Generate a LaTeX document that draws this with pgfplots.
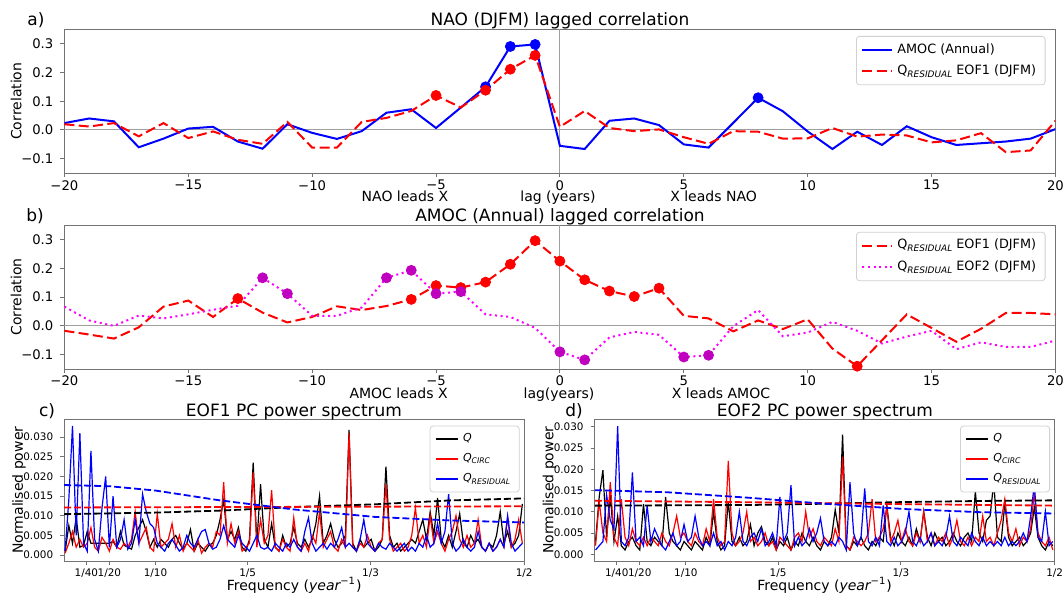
\documentclass[border=0pt]{standalone}
\usepackage{fontspec}
\setmainfont{DejaVu Sans}
\usepackage{graphicx}
\usepackage{pgfplots}
\usepackage{pgfplotstable}
\pgfplotsset{compat=1.18}

\definecolor{mplblue}{rgb}{0,0,1}
\definecolor{mplred}{rgb}{1,0,0}
\definecolor{mplmag}{rgb}{0.75,0,0.75}
\definecolor{mplmagline}{rgb}{1,0,1}
\definecolor{spine}{rgb}{0.45,0.45,0.45}

\newcommand{\fs}[1]{\fontsize{#1}{#1}\selectfont}
\newcommand{\sub}[1]{\raisebox{-0.35ex}{\scalebox{0.7}{\itshape #1}}}

% power spectra, values in units of 1e-3
% f  Q  C(circ)  R(residual)
\pgfplotstableread{
f Q C R
0.002 1 0.5 1
0.006 7.5 3 14
0.010 3 6 32.8
0.014 9.5 2 5
0.018 2 4 31
0.022 2.5 2 3
0.026 6 3 1
0.030 3 7 26.5
0.034 3 2 4
0.038 3 1 1
0.042 3 4.5 12
0.046 3 3 20
0.050 3 1 2
0.054 3.5 4 15
0.058 2 2 2
0.062 6 1.5 4
0.066 2.5 3 9
0.070 2 2 1.5
0.074 1.5 4 3
0.078 5 11 9
0.082 7 3 3
0.086 9 5 15.5
0.090 6 7 11
0.094 2 2 8
0.098 4 1 7
0.102 2 10.5 3
0.106 4 2 2
0.110 3 3 1
0.114 2 4 3
0.118 4 8 4
0.122 5 2 2.5
0.126 3 5 1
0.130 1.5 1 2
0.134 3 3 5
0.138 6.5 2 3
0.142 1 1 2
0.146 3 4 4
0.150 2 0.5 6
0.154 1 2 6.5
0.158 2.5 3 3
0.162 3 2 1.5
0.166 5 6 2
0.170 9 5 4
0.174 14 18.5 7.5
0.178 4 3 4
0.182 6 8 3
0.186 4 3 2
0.190 7 6 5
0.194 2 1 3
0.198 1 2 2
0.202 4 3 1
0.206 23.5 21 3
0.210 3 2 5
0.214 18 9 2
0.218 4 3 1.5
0.222 2 5 2
0.226 8 16.5 1
0.230 2 2 3
0.234 1 1 2
0.238 5 4 1
0.242 2 2 3
0.246 3 1 2
0.250 7 9.5 4
0.254 3 2 2
0.258 2 1 1
0.262 4 3 6
0.266 2 1 9.5
0.270 4 5 3
0.274 8 3 1
0.278 15 11 2
0.282 3 2 3
0.286 5 4 1.5
0.290 8 6 3
0.294 4 2 2
0.298 2 1 4
0.302 3 4 7
0.306 5 2 2
0.310 31.8 31 3
0.314 3 2 2
0.318 1 1 1
0.322 4 3 4
0.326 2 2 9
0.330 3 5 3
0.334 4 2 2
0.338 1 1 1
0.342 2 3 3
0.346 4 4 2
0.350 22.5 18 1.5
0.354 5 4 3
0.358 2 1 2
0.362 3 2 1
0.366 1 3 2
0.370 2 1 3
0.374 3 2 1
0.378 4 5 2
0.382 3 12 1
0.386 6 3 3
0.390 9 5 2
0.394 4 2 5
0.398 11 10 2
0.402 5 3 3
0.406 14.5 6 8
0.410 4 3 3
0.414 2 1 6
0.418 5 4 15.5
0.422 2 6 3
0.426 6 10 1
0.430 10.5 4 2
0.434 3 2 4
0.438 2 5 2
0.442 5 2 1
0.446 3 3 2
0.450 4 9 6
0.454 2 2 2
0.458 1 1 1
0.462 3 3 3
0.466 2 1 1
0.470 5 2 2
0.474 11 4 4
0.478 3 2 2
0.482 6 9.5 10
0.486 2 2 3
0.490 3 4 1
0.494 5 9 2
0.498 13 3 3
}\specone

\pgfplotstableread{
f Q C R
0.002 3 2 1
0.006 13.5 12.5 2
0.010 19.8 5 3
0.014 4 3 14
0.018 14 17 8
0.022 3 4 6
0.026 9 2 30.2
0.030 2 13 3
0.034 1 4 2
0.038 3 2 4
0.042 4 6 19.3
0.046 2 3 3
0.050 1 2 4
0.054 11.8 4 2
0.058 3 2 11.5
0.062 2 4 3
0.066 4 3 6
0.070 3 2 4
0.074 2 5 2
0.078 13.5 3 1
0.082 5 2 3
0.086 3 5 5
0.090 2 9 2
0.094 1 4 3
0.098 3 5 7
0.102 2 3 3
0.106 1 2 4
0.110 3 5 9
0.114 2 3 4
0.118 1 2 2
0.122 4 6 3
0.126 2 3 2
0.130 10 13 5
0.134 3 4 2
0.138 1 2 3
0.142 2 3 1
0.146 12.5 22 3
0.150 3 5 2
0.154 2 2 4
0.158 4 3 10
0.162 2 5 3
0.166 3 10 2
0.170 7 3 4
0.174 2 4 5
0.178 5 2 3
0.182 6.5 3 6
0.186 3 5 2
0.190 2 2 3
0.194 4 3 5
0.198 1 1 2
0.202 3 4 13.5
0.206 2 3 3
0.210 4 2 5
0.214 1 1 16.3
0.218 3 4 2
0.222 2 5 4
0.226 5 3 2
0.230 3 10 3
0.234 2 4 6
0.238 4 6 3
0.242 2 3 5
0.246 1 2 8.5
0.250 3 4 3
0.254 2 3 2
0.258 4 2 3
0.262 10.5 6 2
0.266 5 3 4
0.270 28.2 23 3
0.274 2 2 1
0.278 1 1 17
0.282 3 4 5
0.286 2 3 2
0.290 4 2 4
0.294 2 3 15.5
0.298 1 5 3
0.302 3 13 2
0.306 2 3 4
0.310 4 4 2
0.314 3 6 11.5
0.318 11.5 11 3
0.322 4 3 2
0.326 2 5 4
0.330 5 8 2
0.334 3 3 3
0.338 2 6 5
0.342 4 3 10
0.346 2 2 3
0.350 6 5 2
0.354 3 3 4
0.358 10 10 2
0.362 4 3 3
0.366 2 5 5
0.370 5 2 2
0.374 3 4 3
0.378 4 3 2
0.382 2 5 4
0.386 3 2 9
0.390 5 4 3
0.394 3 8 2
0.398 2 3 4
0.402 4 2 3
0.406 5 4 2
0.410 3 2 5
0.414 14.8 4 3
0.418 5 3 2
0.422 3 9 4
0.426 8 3 2
0.430 9 4 3
0.434 17 2 2
0.438 4 5 3
0.442 3 8 2
0.446 12 13 4
0.450 4 5 2
0.454 2 3 3
0.458 3 6 2
0.462 4 2 3
0.466 2 4 5
0.470 3 3 3
0.474 5 6 9
0.478 11 14.5 16.5
0.482 4 5 4
0.486 2 3 3
0.490 1 2 10
0.494 3 4 2
0.498 2 1 3
}\spectwo

\pgfplotsset{
  base/.style={scale only axis, anchor=south west, clip=true,
    axis line style={spine}, tick style={spine, line width=0.5pt},
    tick align=outside, major tick length=2pt,
    xtick pos=bottom, ytick pos=left,
    legend cell align=left,
    legend style={anchor=north east, draw=black!18, rounded corners=1.5pt,
      fill=white, inner xsep=2.5pt, inner ysep=1.5pt, row sep=0.5pt},
    legend image code/.code={\draw[#1] (0pt,0pt) -- (15pt,0pt);}},
  corr/.style={base, width=495.5pt, height=72pt,
    xmin=-20, xmax=20, ymin=-0.15, ymax=0.35,
    xtick={-20,-15,-10,-5,0,5,10,15,20},
    xticklabels={−20,−15,−10,−5,0,5,10,15,20},
    ytick={-0.1,0,0.1,0.2,0.3},
    yticklabels={−0.1,0.0,0.1,0.2,0.3},
    tick label style={font=\fs{6.6}},
    xticklabel style={yshift=2pt},
    ylabel={Correlation},
    ylabel style={font=\fs{7}, at={(axis description cs:-0.0488,0.5)}, anchor=center},
    legend style={at={(rel axis cs:0.99,0.953)}, font=\fs{6.4}}},
  spec/.style={base, width=230pt, height=70.85pt,
    xmin=0.001, xmax=0.5,
    xtick={0.025,0.05,0.1,0.2,0.33333,0.5},
    xticklabels={1/40,1/20,1/10,1/5,1/3,1/2},
    ytick={0,5,10,15,20,25,30},
    yticklabels={0.000,0.005,0.010,0.015,0.020,0.025,0.030},
    tick label style={font=\fs{5.2}},
    xticklabel style={yshift=1.5pt},
    ylabel={Normalised power},
    ylabel style={font=\fs{7}, at={(axis description cs:-0.098,0.5)}, anchor=center},
    xlabel={Frequency ({\itshape year}\textsuperscript{−1})},
    xlabel style={font=\fs{7}, at={(axis description cs:0.5,0)}, yshift=-12pt, anchor=center},
    legend style={at={(rel axis cs:0.99,0.955)}, font=\fs{5.5}, row sep=0.6pt},
    legend image code/.code={\draw[#1, line width=1pt] (0pt,0pt) -- (11pt,0pt);}},
  zero/.style={gray!75, line width=0.5pt, forget plot},
  dot/.style={only marks, mark=*, mark size=2.5pt, forget plot},
  fitline/.style={line width=0.9pt, dash pattern=on 3.5pt off 1.5pt, forget plot},
  specline/.style={line width=0.6pt}
}

\begin{document}
\begin{tikzpicture}
\useasboundingbox (0,0) rectangle (531.5pt,297pt);

% ---------- a) ----------
\begin{axis}[corr, at={(32.2pt,210.4pt)}]
\addplot[zero] coordinates {(-20,0) (20,0)};
\addplot[zero] coordinates {(0,-0.15) (0,0.35)};
\addplot[mplblue, line width=1pt] coordinates {
(-20,0.024) (-19,0.04) (-18,0.03) (-17,-0.06) (-16,-0.03) (-15,0.005) (-14,0.011)
(-13,-0.04) (-12,-0.065) (-11,0.02) (-10,-0.01) (-9,-0.031) (-8,-0.004) (-7,0.06)
(-6,0.072) (-5,0.007) (-4,0.078) (-3,0.15) (-2,0.29) (-1,0.297) (0,-0.055)
(1,-0.066) (2,0.032) (3,0.04) (4,0.017) (5,-0.05) (6,-0.061) (7,0.025) (8,0.112)
(9,0.065) (10,-0.005) (11,-0.066) (12,-0.006) (13,-0.052) (14,0.013) (15,-0.025)
(16,-0.052) (17,-0.046) (18,-0.04) (19,-0.03) (20,0.003)};
\addlegendentry{AMOC (Annual)}
\addplot[mplred, line width=1pt, dash pattern=on 5pt off 2.2pt] coordinates {
(-20,0.02) (-19,0.012) (-18,0.024) (-17,-0.022) (-16,0.024) (-15,-0.028) (-14,-0.005)
(-13,-0.034) (-12,-0.048) (-11,0.028) (-10,-0.061) (-9,-0.061) (-8,0.028) (-7,0.042)
(-6,0.066) (-5,0.12) (-4,0.078) (-3,0.138) (-2,0.211) (-1,0.259) (0,0.011)
(1,0.066) (2,0.007) (3,-0.004) (4,0.002) (5,-0.025) (6,-0.048) (7,-0.004) (8,-0.006)
(9,-0.03) (10,-0.029) (11,0.007) (12,-0.023) (13,-0.016) (14,-0.019) (15,-0.043)
(16,-0.036) (17,-0.011) (18,-0.077) (19,-0.071) (20,0.032)};
\addlegendentry{Q\sub{RESIDUAL} EOF1 (DJFM)}
\addplot[dot, mplblue] coordinates {(-3,0.15) (-2,0.29) (-1,0.297) (8,0.112)};
\addplot[dot, mplred] coordinates {(-5,0.12) (-3,0.138) (-2,0.211) (-1,0.259)};
\end{axis}

% ---------- b) ----------
\begin{axis}[corr, at={(32.2pt,112.45pt)}]
\addplot[zero] coordinates {(-20,0) (20,0)};
\addplot[zero] coordinates {(0,-0.15) (0,0.35)};
\addplot[mplred, line width=1pt, dash pattern=on 5pt off 2.2pt] coordinates {
(-20,-0.017) (-19,-0.03) (-18,-0.044) (-17,-0.005) (-16,0.067) (-15,0.088) (-14,0.031)
(-13,0.095) (-12,0.046) (-11,0.012) (-10,0.031) (-9,0.068) (-8,0.055) (-7,0.069)
(-6,0.092) (-5,0.14) (-4,0.133) (-3,0.152) (-2,0.214) (-1,0.296) (0,0.225)
(1,0.16) (2,0.121) (3,0.102) (4,0.131) (5,0.035) (6,0.026) (7,-0.019) (8,0.019)
(9,-0.011) (10,0.023) (11,-0.079) (12,-0.14) (13,-0.05) (14,0.04) (15,-0.007)
(16,-0.055) (17,-0.01) (18,0.045) (19,0.045) (20,0.04)};
\addlegendentry{Q\sub{RESIDUAL} EOF1 (DJFM)}
\addplot[mplmagline, line width=1pt, dash pattern=on 1pt off 1.8pt] coordinates {
(-20,0.067) (-19,0.019) (-18,0.0) (-17,0.036) (-16,0.026) (-15,0.04) (-14,0.056)
(-13,0.07) (-12,0.167) (-11,0.112) (-10,0.035) (-9,0.035) (-8,0.064) (-7,0.167)
(-6,0.193) (-5,0.112) (-4,0.119) (-3,0.04) (-2,0.031) (-1,-0.007) (0,-0.09)
(1,-0.118) (2,-0.04) (3,-0.021) (4,-0.031) (5,-0.108) (6,-0.102) (7,-0.001) (8,0.055)
(9,-0.036) (10,-0.023) (11,0.014) (12,-0.017) (13,-0.061) (14,-0.037) (15,-0.017)
(16,-0.081) (17,-0.057) (18,-0.073) (19,-0.073) (20,-0.051)};
\addlegendentry{Q\sub{RESIDUAL} EOF2 (DJFM)}
\addplot[dot, mplred] coordinates {(-13,0.095) (-6,0.092) (-5,0.14) (-4,0.133) (-3,0.152)
(-2,0.214) (-1,0.296) (0,0.225) (1,0.16) (2,0.121) (3,0.102) (4,0.131) (12,-0.14)};
\addplot[dot, mplmag] coordinates {(-12,0.167) (-11,0.112) (-7,0.167) (-6,0.193)
(-5,0.112) (-4,0.119) (0,-0.09) (1,-0.118) (5,-0.108) (6,-0.102)};
\end{axis}

% ---------- c) ----------
\begin{axis}[spec, at={(32.1pt,16.5pt)}, ymin=-1.5, ymax=34.5]
\addplot[black, specline] table[x=f, y=Q] {\specone};
\addlegendentry{{\itshape Q}}
\addplot[mplred, specline] table[x=f, y=C] {\specone};
\addlegendentry{{\itshape Q}\sub{CIRC}}
\addplot[mplblue, specline] table[x=f, y=R] {\specone};
\addlegendentry{{\itshape Q}\sub{RESIDUAL}}
\addplot[fitline, black] coordinates {(0.001,10.4) (0.1,10.8) (0.17,11.3) (0.25,12.2) (0.338,12.9) (0.42,13.9) (0.5,14.4)};
\addplot[fitline, mplred] coordinates {(0.001,12.1) (0.25,12.25) (0.5,12.4)};
\addplot[fitline, mplblue] coordinates {(0.001,17.8) (0.05,17.5) (0.1,16.4) (0.17,13.9) (0.25,11.6) (0.338,9.7) (0.42,8.8) (0.5,8.3)};
\end{axis}

% ---------- d) ----------
\begin{axis}[spec, at={(297.3pt,16.5pt)}, ymin=-1.6, ymax=31.8]
\addplot[black, specline] table[x=f, y=Q] {\spectwo};
\addlegendentry{{\itshape Q}}
\addplot[mplred, specline] table[x=f, y=C] {\spectwo};
\addlegendentry{{\itshape Q}\sub{CIRC}}
\addplot[mplblue, specline] table[x=f, y=R] {\spectwo};
\addlegendentry{{\itshape Q}\sub{RESIDUAL}}
\addplot[fitline, black] coordinates {(0.0014,11.45) (0.169,11.6) (0.25,11.9) (0.337,12.3) (0.42,12.55) (0.5,12.7)};
\addplot[fitline, mplred] coordinates {(0.0014,12.6) (0.169,12.25) (0.337,11.8) (0.5,11.45)};
\addplot[fitline, mplblue] coordinates {(0.0014,15.1) (0.08,14.6) (0.169,13.3) (0.25,11.9) (0.337,10.65) (0.42,9.9) (0.5,9.6)};
\end{axis}

% titles, panel letters and lead/lag captions
\node[font=\fs{8.5}, anchor=base] at (280pt,284pt) {NAO (DJFM) lagged correlation};
\node[font=\fs{8.5}, anchor=base] at (18pt,284pt) {a)};
\node[font=\fs{7}, anchor=base] at (202.5pt,196pt) {NAO leads X};
\node[font=\fs{7}, anchor=base] at (279pt,196pt) {lag (years)};
\node[font=\fs{7}, anchor=base] at (356.8pt,196pt) {X leads NAO};

\node[font=\fs{8.5}, anchor=base] at (280pt,186.2pt) {AMOC (Annual) lagged correlation};
\node[font=\fs{8.5}, anchor=base] at (17.5pt,186.2pt) {b)};
\node[font=\fs{7}, anchor=base] at (199.3pt,98pt) {AMOC leads X};
\node[font=\fs{7}, anchor=base] at (279.5pt,98pt) {lag(years)};
\node[font=\fs{7}, anchor=base] at (360.5pt,98pt) {X leads AMOC};

\node[font=\fs{8.5}, anchor=base] at (147pt,88.9pt) {EOF1 PC power spectrum};
\node[font=\fs{8.5}, anchor=base] at (23.5pt,88.9pt) {c)};
\node[font=\fs{8.5}, anchor=base] at (412.5pt,88.9pt) {EOF2 PC power spectrum};
\node[font=\fs{8.5}, anchor=base] at (287pt,88.9pt) {d)};
\end{tikzpicture}
\end{document}
